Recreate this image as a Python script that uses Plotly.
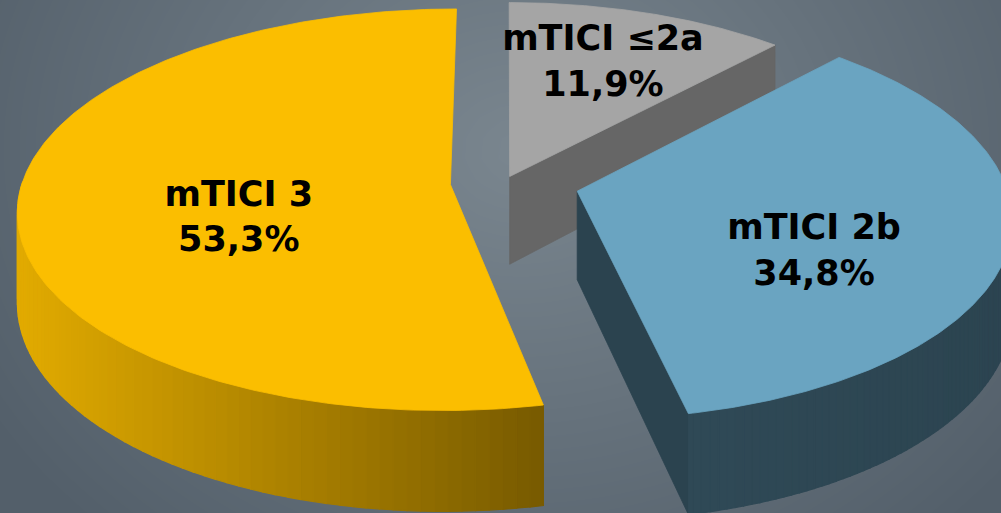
import numpy as np
import plotly.graph_objects as go

# ---- data (clockwise from 12 o'clock) ----
categories = ["mTICI ≤2a", "mTICI 2b", "mTICI 3"]
values = [11.9, 34.8, 53.3]
value_labels = ["11,9%", "34,8%", "53,3%"]
top_colors = ["#A5A5A5", "#6AA4C1", "#FBBE00"]
pulls = [0.03, 0.174, 0.128]
label_nudge = [(13, -40), (3, 10), (25, 2)]

# ---- projection of the tilted disc ----
W, Hh = 1001, 513
CX, CY = 505, 182
RX, RY = 428, 197
K = 0.125
DEPTH = 88


def proj(u, v, z=0.0):
    u = np.asarray(u, float)
    v = np.asarray(v, float)
    p = 1.0 / (1.0 + K * v)
    return CX + RX * u * p, CY - RY * v * p + DEPTH * z * p


def shade(hexcol, f):
    h = hexcol.lstrip("#")
    r, g, b = (int(h[i:i + 2], 16) for i in (0, 2, 4))
    return "rgb(%d,%d,%d)" % (r * f, g * f, b * f)


fig = go.Figure()

# background radial gradient
bx = np.linspace(0, W, 51)
by = np.linspace(0, Hh, 27)
BX, BY = np.meshgrid(bx, by)
bz = np.sqrt(((BX - 520) / 620) ** 2 + ((BY - 150) / 520) ** 2)
fig.add_trace(go.Heatmap(x=bx, y=by, z=bz, zsmooth="best", showscale=False,
                         colorscale=[[0, "#7a868f"], [1, "#535f6a"]],
                         zmin=0, zmax=1.0, hoverinfo="skip"))

total = sum(values)
angles = []
a0 = 90.0
for val in values:
    a1 = a0 - 360.0 * val / total
    angles.append((a0, a1))
    a0 = a1


def poly(xs, ys, color, lw=0.8):
    fig.add_trace(go.Scatter(x=list(xs) + [xs[0]], y=list(ys) + [ys[0]], mode="lines",
                             fill="toself", fillcolor=color,
                             line=dict(color=color, width=lw),
                             hoverinfo="skip", showlegend=False))


label_pos = []
draw_order = [0, 2, 1]
for i in draw_order:
    s, e = angles[i]
    mid = np.radians((s + e) / 2)
    ou, ov = pulls[i] * np.cos(mid), pulls[i] * np.sin(mid)
    col = top_colors[i]
    th = np.radians(np.linspace(s, e, 240))
    ru, rv = ou + np.cos(th), ov + np.sin(th)

    # radial side faces (only those facing the viewer)
    for ang, turn in ((s, 90.0), (e, -90.0)):
        a = np.radians(ang)
        nv = np.sin(a + np.radians(turn))
        if nv < -0.05:
            pu, pv = ou + np.cos(a), ov + np.sin(a)
            x1, y1 = proj([ou, pu], [ov, pv], 0)
            x2, y2 = proj([pu, ou], [pv, ov], 1)
            f = 0.41 if col != "#A5A5A5" else 0.62
            poly(np.r_[x1, x2], np.r_[y1, y2], shade(col, f))

    # outer curved wall, in shaded strips (front half only)
    front = np.sin(th) < 0.02
    idx = np.where(front)[0]
    if len(idx) > 1:
        step = 2
        for j in range(idx[0], idx[-1], step):
            k2 = min(j + step, idx[-1])
            tu, tv = ru[j:k2 + 1], rv[j:k2 + 1]
            xt, yt = proj(tu, tv, 0)
            xb, yb = proj(tu[::-1], tv[::-1], 1)
            xm = proj(tu.mean(), tv.mean())[0]
            if col == "#FBBE00":
                f = 0.9 - 0.42 * np.clip((xm - 20) / 520, 0, 1)
            elif col == "#6AA4C1":
                f = 0.45 - 0.03 * np.clip((xm - 690) / 300, 0, 1)
            else:
                f = 0.62
            poly(np.r_[xt, xb], np.r_[yt, yb], shade(col, f), lw=1.2)

    # top face
    xt, yt = proj(np.r_[ou, ru], np.r_[ov, rv], 0)
    poly(xt, yt, col)

    lx, ly = proj(ou + 0.55 * np.cos(mid), ov + 0.55 * np.sin(mid), 0)
    label_pos.append((i, float(lx) + label_nudge[i][0], float(ly) + 22 + label_nudge[i][1]))

label_pos.sort()
fig.add_trace(go.Scatter(
    x=[p[1] for p in label_pos], y=[p[2] for p in label_pos], mode="text",
    text=["%s<br>%s" % (categories[i], value_labels[i]) for i, _, _ in label_pos],
    textposition="middle center",
    textfont=dict(family="DejaVu Sans", size=35, color="#000000", weight="bold"),
    hoverinfo="skip", showlegend=False))

fig.update_layout(
    width=W, height=Hh, margin=dict(l=0, r=0, t=0, b=0),
    paper_bgcolor="#66727c", plot_bgcolor="#66727c",
    xaxis=dict(range=[0, W], visible=False, fixedrange=True),
    yaxis=dict(range=[Hh, 0], visible=False, fixedrange=True),
    showlegend=False,
)

fig.write_html("out.html")
